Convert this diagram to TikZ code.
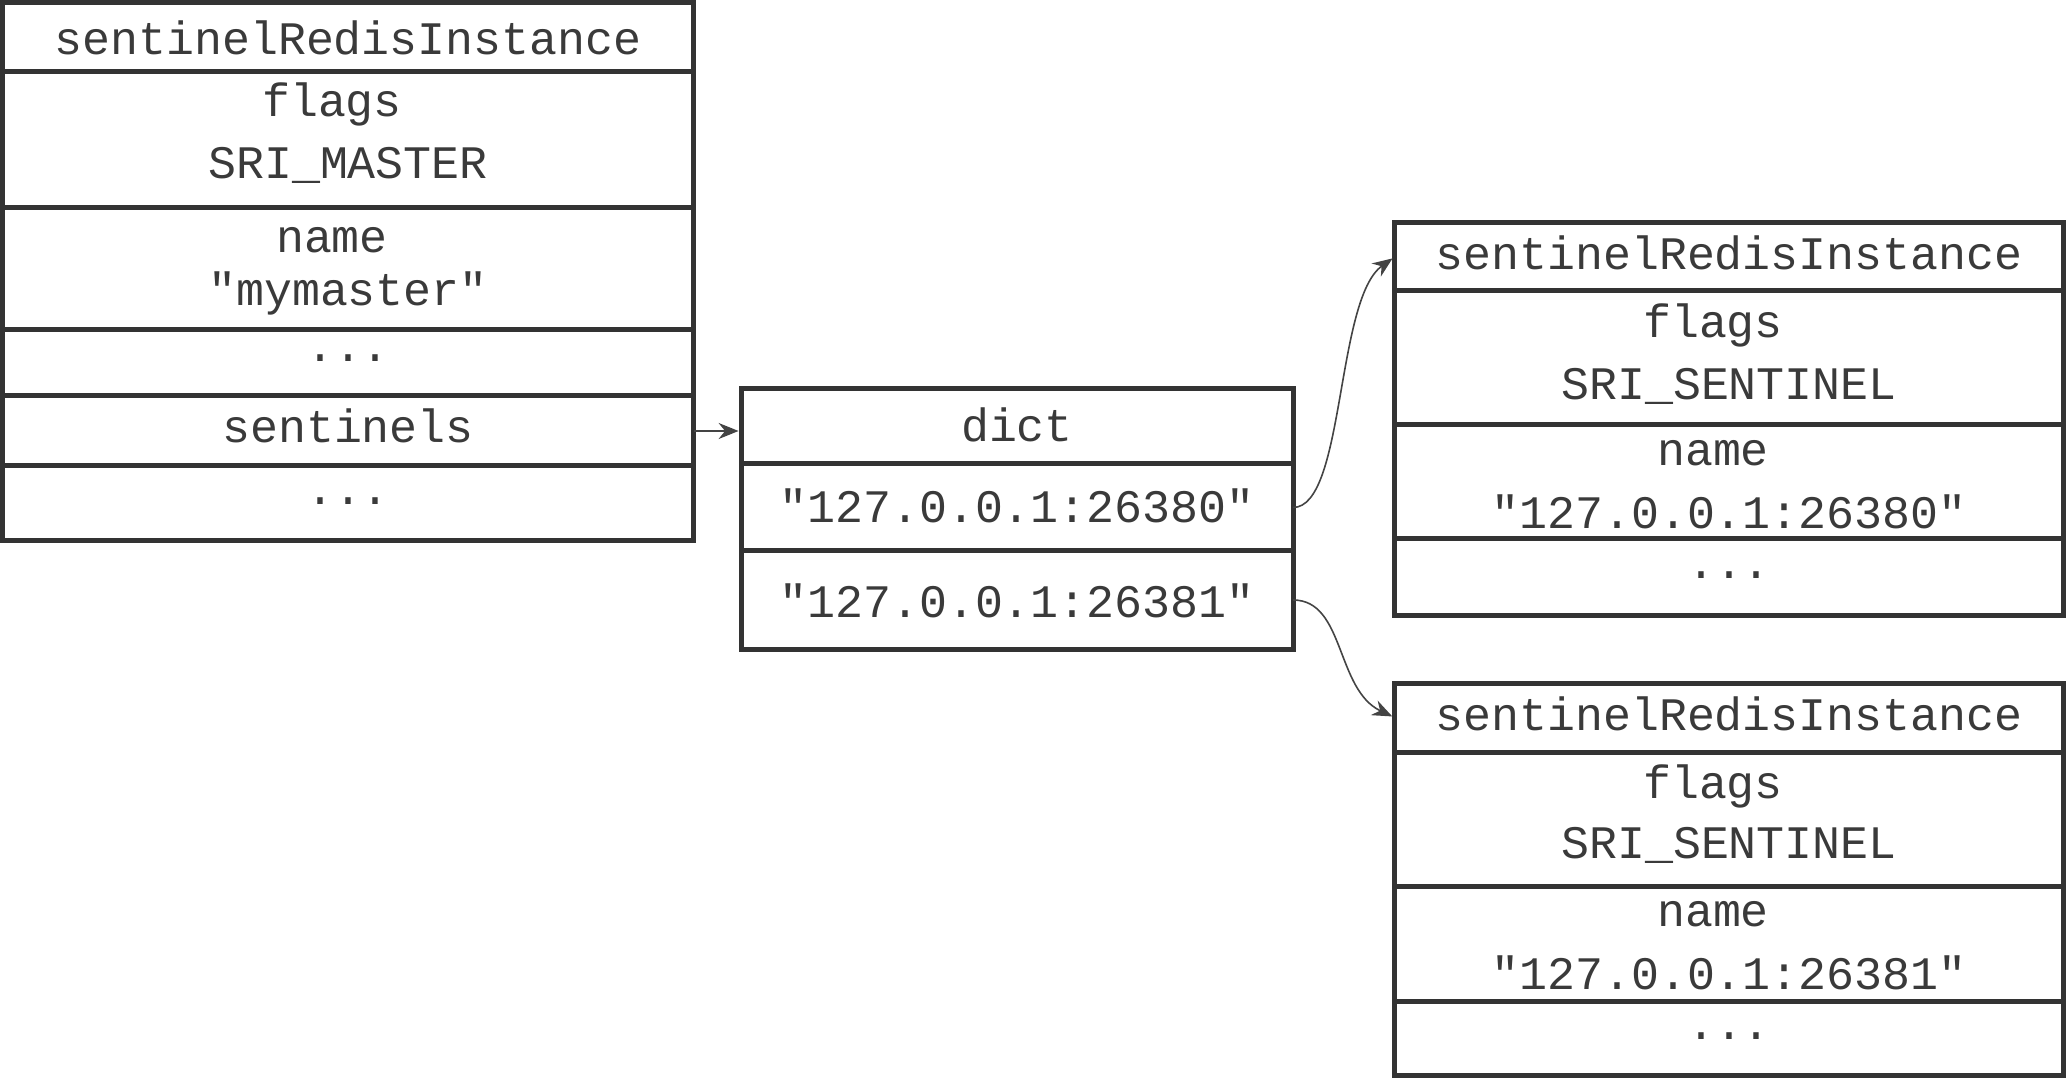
\documentclass[tikz,border=0pt]{standalone}
\usepackage{fontspec}
\usetikzlibrary{arrows.meta}
\newfontfamily\monof{Liberation Mono}
\definecolor{linec}{HTML}{333333}
\definecolor{txtc}{HTML}{3A3A3A}
\definecolor{connc}{HTML}{444444}
\tikzset{
  cell/.style={draw=linec, line width=2.5pt, inner sep=0pt, outer sep=0pt},
  txt/.style={font=\monof\fontsize{23.3}{28}\selectfont, text=txtc, inner sep=0pt},
  conn/.style={draw=connc, line width=0.8pt, -{Stealth[length=10pt,width=8pt]}, shorten >=1.2pt}
}
\begin{document}
\begin{tikzpicture}[x=0.5pt,y=-0.5pt]
\useasboundingbox (0,0) rectangle (2068,1080);
% left box
\node[cell, minimum width=345.75pt, minimum height=34.5pt] (A0) at (348,37.5) {};
\node[cell, minimum width=345.75pt, minimum height=68pt] (A1) at (348,140) {};
\node[cell, minimum width=345.75pt, minimum height=61pt] (A2) at (348,269) {};
\node[cell, minimum width=345.75pt, minimum height=33pt] (A3) at (348,363) {};
\node[cell, minimum width=345.75pt, minimum height=35pt] (A4) at (348,431) {};
\node[cell, minimum width=345.75pt, minimum height=37.5pt] (A5) at (348,503.5) {};
\node[txt] (ta0) at (348,38) {sentinelRedisInstance};
\node[txt] (ta1) at (332,104) {flags};
\node[txt] (ta1b) at (348,165) {SRI\_MASTER};
\node[txt] (ta2) at (332,240) {name};
\node[txt] (ta2b) at (348,293) {"mymaster"};
\node[txt] (ta3) at (348,358) {...};
\node[txt] (ta4) at (348,426) {sentinels};
\node[txt] (ta5) at (348,501) {...};
% dict
\node[cell, minimum width=276pt, minimum height=37.5pt] (D0) at (1017,426.5) {};
\node[cell, minimum width=276pt, minimum height=43.5pt] (D1) at (1017,507.5) {};
\node[cell, minimum width=276pt, minimum height=49pt] (D2) at (1017,600) {};
\node[txt] (td0) at (1017,425) {dict};
\node[txt] (td1) at (1017,506) {"127.0.0.1:26380"};
\node[txt] (td2) at (1017,601) {"127.0.0.1:26381"};
% right box B
\node[cell, minimum width=334.5pt, minimum height=34pt] (B0) at (1729,257) {};
\node[cell, minimum width=334.5pt, minimum height=67pt] (B1) at (1729,358) {};
\node[cell, minimum width=334.5pt, minimum height=57pt] (B2) at (1729,482) {};
\node[cell, minimum width=334.5pt, minimum height=38pt] (B3) at (1729,577) {};
\node[txt] (tb0) at (1729,253) {sentinelRedisInstance};
\node[txt] (tb1) at (1713,325) {flags};
\node[txt] (tb1b) at (1729,386) {SRI\_SENTINEL};
\node[txt] (tb2) at (1713,453) {name};
\node[txt] (tb2b) at (1729,512) {"127.0.0.1:26380"};
\node[txt] (tb3) at (1729,575) {...};
% right box C
\node[cell, minimum width=334.5pt, minimum height=34.5pt] (C0) at (1729,717.5) {};
\node[cell, minimum width=334.5pt, minimum height=67pt] (C1) at (1729,819) {};
\node[cell, minimum width=334.5pt, minimum height=57.5pt] (C2) at (1729,943.5) {};
\node[cell, minimum width=334.5pt, minimum height=37pt] (C3) at (1729,1038) {};
\node[txt] (tc0) at (1729,714) {sentinelRedisInstance};
\node[txt] (tc1) at (1713,786) {flags};
\node[txt] (tc1b) at (1729,845) {SRI\_SENTINEL};
\node[txt] (tc2) at (1713,914) {name};
\node[txt] (tc2b) at (1729,973) {"127.0.0.1:26381"};
\node[txt] (tc3) at (1729,1036) {...};
% connectors
\draw[conn] (A4.east) -- (A4.east -| D0.west);
\draw[conn] (D1.east) .. controls +(52,0) and +(-59,42) .. (B0.west);
\draw[conn] (D2.east) .. controls +(52,0) and +(-59,-28) .. (C0.west);
\end{tikzpicture}
\end{document}
